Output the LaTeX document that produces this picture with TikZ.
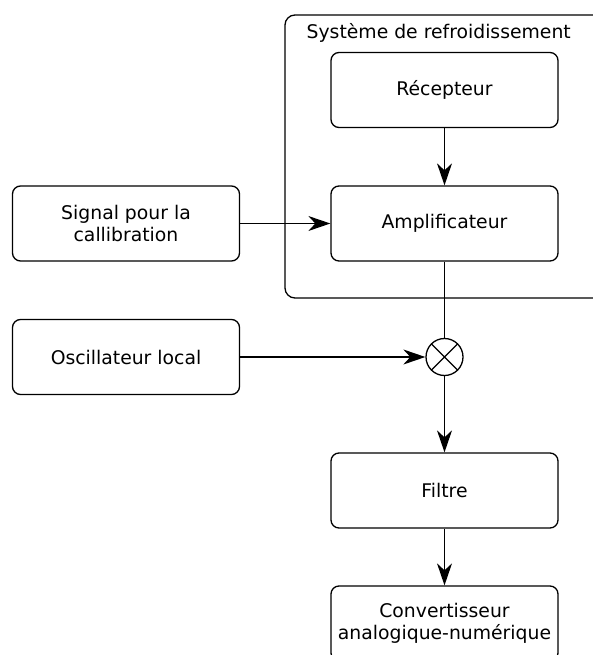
\documentclass[tikz,border=0pt]{standalone}
\usepackage{fontspec}
\setmainfont{DejaVu Sans}
\usetikzlibrary{arrows.meta}
\tikzset{
	block/.style={draw, rounded corners=8pt, minimum width=227pt, minimum height=75pt, align=center},
	mixer/.style={draw, circle, minimum size=37pt, inner sep=0pt,
		path picture={\draw (path picture bounding box.north west) -- (path picture bounding box.south east)
			(path picture bounding box.north east) -- (path picture bounding box.south west);}},
	>={Stealth[length=22pt, width=15pt, inset=7pt]}
}

\begin{document}
\begin{tikzpicture}[x=1pt, y=-1pt, line width=1.3pt, font=\fontsize{18.8}{22.5}\selectfont]
			%%%%% START %%%%%
			\useasboundingbox (0, 0) rectangle (593, 655);
			\clip (0, 0) rectangle (593, 655);
			
			\node[draw, rounded corners=10pt, minimum width=325pt, minimum height=283pt] (cooling) at (447.5, 156.5) {};
			\node[anchor=base west, inner sep=0pt] (coolingtitle) at (306, 39) {Système de refroidissement};
			
			\node[block] (rec) at (444.5, 90) {Récepteur};
			\node[block] (amp) at (444.5, 223.5) {Amplificateur};
			\node[block] (sig) at (126, 223.5) {Signal pour la\\callibration};
			\node[block] (osc) at (126, 357) {Oscillateur local};
			\node[mixer] (mix) at (444.5, 357) {};
			\node[block] (filt) at (444.5, 490.5) {Filtre};
			\node[block] (conv) at (444.5, 623.5) {Convertisseur\\analogique-numérique};
			
			\draw[->] (rec) -- (amp);
			\draw[->] (sig) -- (amp);
			\draw (amp) -- (mix);
			\draw[->] (osc) -- (mix);
			\draw[->] (mix) -- (filt);
			\draw[->] (filt) -- (conv);
			%%%%% END %%%%%
		\end{tikzpicture}
\end{document}
